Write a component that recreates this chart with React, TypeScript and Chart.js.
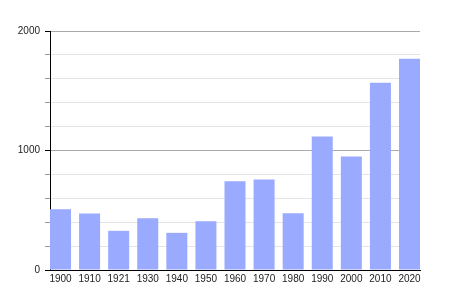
import React, { useEffect, useRef } from "react";
import { Chart, registerables } from "chart.js";

Chart.register(...registerables);

const years = ["1900", "1910", "1921", "1930", "1940", "1950", "1960", "1970", "1980", "1990", "2000", "2010", "2020"];
const population = [508, 472, 328, 433, 311, 408, 742, 758, 475, 1117, 950, 1567, 1767];
const yMajorTicks = [0, 1000, 2000];

export default function App() {
  const ref = useRef<HTMLCanvasElement | null>(null);
  useEffect(() => {
    if (!ref.current) return;
    const points = population.map((v, i) => ({ x: i, y: v }));
    const chart = new Chart(ref.current, {
      type: "bar",
      data: {
        datasets: [
          {
            data: points,
            backgroundColor: "#99aaff",
            borderWidth: 0,
            barPercentage: 1,
            categoryPercentage: 0.722,
          },
        ],
      },
      options: {
        animation: false,
        responsive: false,
        maintainAspectRatio: false,
        layout: { padding: { left: 0, top: 31, right: 30, bottom: 0 } },
        plugins: { legend: { display: false }, tooltip: { enabled: false } },
        scales: {
          x: {
            type: "linear",
            min: -0.361,
            max: 12.361,
            offset: false,
            afterFit: (s: any) => {
              s.height = 30;
            },
            grid: { display: false, drawTicks: false },
            border: { display: true, color: "#000", width: 1 },
            ticks: {
              stepSize: 1,
              includeBounds: false,
              autoSkip: false,
              maxRotation: 0,
              padding: 3,
              color: "#222",
              font: { family: "Liberation Sans, Arial, sans-serif", size: 10 },
              callback: (v: any) => {
                const i = Math.round(Number(v));
                return Math.abs(Number(v) - i) < 1e-6 && years[i] !== undefined ? years[i] : "";
              },
            },
          },
          y: {
            min: 0,
            max: 2000,
            afterFit: (s: any) => {
              s.width = 50;
            },
            grid: {
              color: (ctx: any) => (yMajorTicks.includes(ctx.tick?.value) ? "#aaaaaa" : "#e4e4e4"),
              tickColor: (ctx: any) => (yMajorTicks.includes(ctx.tick?.value) ? "#000000" : "#999999"),
              tickLength: 5,
              lineWidth: 1,
            },
            border: { display: true, color: "#000", width: 1 },
            ticks: {
              stepSize: 200,
              autoSkip: false,
              padding: 5,
              color: "#222",
              font: { family: "Liberation Sans, Arial, sans-serif", size: 10 },
              callback: (v: any) => (yMajorTicks.includes(Number(v)) ? String(v) : ""),
            },
          },
        },
      },
    });
    return () => chart.destroy();
  }, []);
  return (
    <div style={{ position: "fixed", left: 0, top: 0, width: 450, height: 300, background: "#fff" }}>
      <canvas ref={ref} width={450} height={300} style={{ width: 450, height: 300 }} />
    </div>
  );
}
